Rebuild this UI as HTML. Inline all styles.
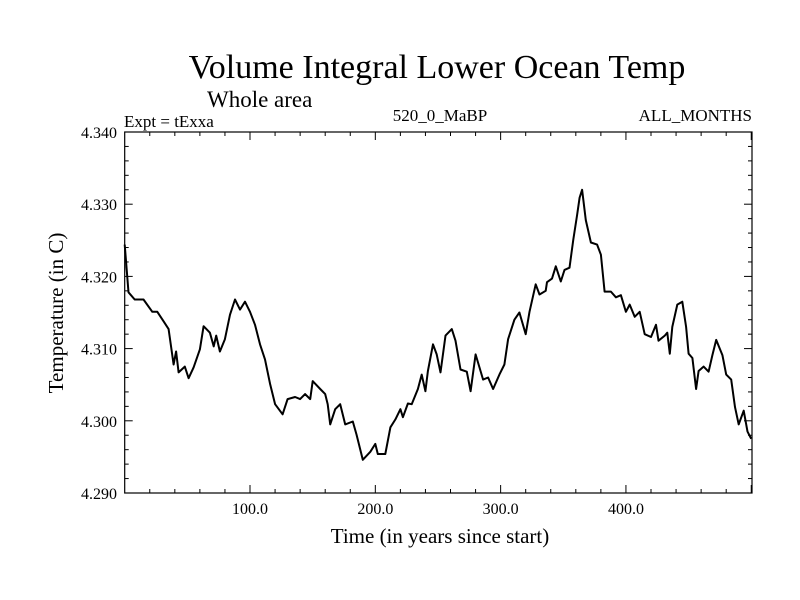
<!DOCTYPE html>
<html><head><meta charset="utf-8"><style>
html,body{margin:0;padding:0;background:#fff;}
svg{display:block;font-family:"Liberation Serif",serif;}
</style></head><body>
<svg id="chart" width="800" height="600">
<text x="437" y="78" font-size="34" text-anchor="middle">Volume Integral Lower Ocean Temp</text>
<text x="207" y="107" font-size="23">Whole area</text>
<text x="124" y="127" font-size="17">Expt = tExxa</text>
<text x="440" y="121" font-size="17" text-anchor="middle">520_0_MaBP</text>
<text x="752" y="121" font-size="17" text-anchor="end">ALL_MONTHS</text>
<text x="440" y="543" font-size="21" text-anchor="middle">Time (in years since start)</text>
<text transform="translate(63,313) rotate(-90)" font-size="21" text-anchor="middle">Temperature (in C)</text>
<g id="axes"></g>
<path id="line" fill="none" stroke="#000" stroke-width="2" stroke-linejoin="round"></path>
</svg>
<script>
const years=[0,3,8,15,22,26,31,35,39,41,43,48,51,55,60,63,68,71,73,76,80,84,88,92,96,100,104,108,112,116,120,126,130,136,140,144,148,150,156,160,162,164,168,172,176,182,185,190,196,200,202,208,212,216,220,222,226,229,234,237,240,242,246,249,252,256,261,264,268,273,276,280,286,290,294,299,303,306,311,315,320,323,328,331,336,337,341,344,348,351,355,358,361,363,365,368,372,377,380,383,388,392,396,400,403,407,411,415,420,424,426,431,433,435,437,441,445,448,450,453,456,458,462,466,469,472,477,480,484,487,490,494,497,500];
const temps=[4.3244,4.3178,4.3168,4.3168,4.3151,4.3151,4.3138,4.3127,4.3078,4.3096,4.3067,4.3075,4.3059,4.3074,4.3099,4.3131,4.3122,4.3103,4.3118,4.3096,4.3113,4.3147,4.3168,4.3154,4.3165,4.3151,4.3133,4.3106,4.3085,4.3051,4.3023,4.3009,4.3030,4.3033,4.3030,4.3037,4.3030,4.3055,4.3044,4.3037,4.3023,4.2995,4.3016,4.3023,4.2995,4.2999,4.2981,4.2946,4.2957,4.2968,4.2954,4.2954,4.2991,4.3002,4.3016,4.3005,4.3024,4.3023,4.3044,4.3064,4.3041,4.3069,4.3106,4.3092,4.3067,4.3118,4.3127,4.3111,4.3071,4.3068,4.3041,4.3092,4.3057,4.3060,4.3044,4.3064,4.3078,4.3113,4.3140,4.3150,4.3120,4.3151,4.3189,4.3175,4.3180,4.3192,4.3197,4.3214,4.3193,4.3209,4.3212,4.3251,4.3285,4.3309,4.3320,4.3278,4.3247,4.3244,4.3230,4.3179,4.3179,4.3171,4.3174,4.3151,4.3161,4.3144,4.3151,4.3120,4.3116,4.3133,4.3111,4.3118,4.3122,4.3093,4.3130,4.3161,4.3165,4.3130,4.3093,4.3087,4.3044,4.3069,4.3075,4.3068,4.3091,4.3112,4.3091,4.3064,4.3057,4.3019,4.2995,4.3014,4.2985,4.2975];
const xTicks=[100,200,300,400];
const xTickLabels=["100.0","200.0","300.0","400.0"];
const yTicks=[4.29,4.30,4.31,4.32,4.33,4.34];
const yTickLabels=["4.290","4.300","4.310","4.320","4.330","4.340"];
const L=124.7,R=752,T=132,B=493,X0=0,X1=500.6,Y0=4.29,Y1=4.34;
const sx=v=>L+(v-X0)/(X1-X0)*(R-L);
const sy=v=>B-(v-Y0)/(Y1-Y0)*(B-T);
const NS="http://www.w3.org/2000/svg";
const g=document.getElementById('axes');
function mk(tag,attrs){const e=document.createElementNS(NS,tag);for(const k in attrs)e.setAttribute(k,attrs[k]);g.appendChild(e);return e;}
const frame=mk('rect',{x:L,y:T,width:R-L,height:B-T,fill:'none',stroke:'#000','stroke-width':1.2});


for(let v=20;v<X1;v+=20){
  const major=v%100===0,len=major?8:4,x=sx(v);
  const t1=mk('line',{x1:x,x2:x,y1:B,y2:B-len,stroke:'#000'});
  
  
  const t2=mk('line',{x1:x,x2:x,y1:T,y2:T+len,stroke:'#000'});
  
  
}
xTicks.forEach((v,i)=>{
  const t=mk('text',{x:sx(v),y:B+21,'font-size':16,'text-anchor':'middle'});t.textContent=xTickLabels[i];
  
  
});
for(let k=0;k<=25;k++){
  const v=Y0+k*0.002,major=k%5===0,len=major?8:4,y=sy(v);
  const t1=mk('line',{x1:L,x2:L+len,y1:y,y2:y,stroke:'#000'});
  
  
  const t2=mk('line',{x1:R,x2:R-len,y1:y,y2:y,stroke:'#000'});
  
  
}
yTicks.forEach((v,i)=>{
  const t=mk('text',{x:117,y:sy(v)+6,'font-size':16,'text-anchor':'end'});t.textContent=yTickLabels[i];
  
  
});
document.getElementById('line').setAttribute('d',years.map((y,i)=>(i?'L':'M')+sx(y).toFixed(1)+' '+sy(temps[i]).toFixed(1)).join(' '));
</script>
</body></html>
